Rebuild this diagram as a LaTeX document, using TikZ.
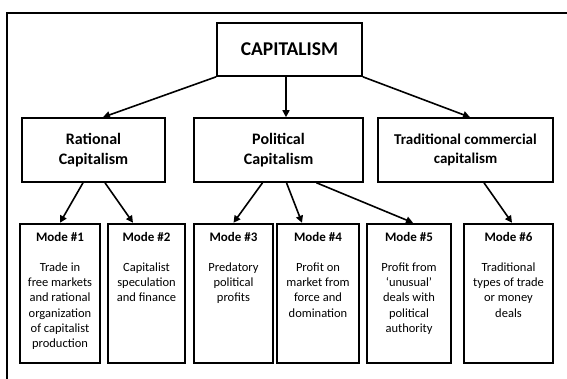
\documentclass[tikz,border=0pt]{standalone}
\usepackage{fontspec}
\setmainfont{Carlito}
\usetikzlibrary{arrows.meta}
\tikzset{
  topbox/.style={draw=black, line width=1.6pt, minimum width=145pt, minimum height=53pt, inner sep=0pt, font=\fontsize{19.5}{23}\selectfont\bfseries},
  midbox/.style={draw=black, line width=1.6pt, minimum height=64pt, inner sep=0pt, align=center, font=\fontsize{16}{20.5}\selectfont\bfseries},
  modebox/.style={draw=black, line width=2.5pt, minimum height=139pt, inner sep=0pt},
  modetext/.style={anchor=north, inner sep=0pt, align=center, font=\fontsize{12.5}{15.3}\selectfont},
  conn/.style={line width=1.6pt, -{Triangle[length=7pt,width=7pt]}},
  frame/.style={line width=1.8pt}
}
\begin{document}
\begin{tikzpicture}[x=1pt,y=-1pt]
\clip (0,0) rectangle (567,378);
\fill[white] (0,0) rectangle (567,378);
\coordinate (fbl) at (7,390);
\coordinate (ftl) at (7,13);
\coordinate (ftr) at (590,13);
\draw[frame] (fbl) -- (ftl) -- (ftr);

\node[topbox] (cap) at (289.5,49.5) {CAPITALISM};

\node[midbox, minimum width=143pt] (rat) at (93.5,150) {Rational\\Capitalism};
\node[midbox, minimum width=169pt] (pol) at (278.5,150) {Political\\Capitalism};
\node[midbox, minimum width=175pt, font=\fontsize{15}{18.3}\selectfont\bfseries] (tra) at (465.5,150) {Traditional commercial\\capitalism};

\node[modebox, minimum width=80pt] (m1) at (60,293.5) {};
\node[modebox, minimum width=77pt] (m2) at (146.5,293.5) {};
\node[modebox, minimum width=79pt] (m3) at (233.5,293.5) {};
\node[modebox, minimum width=82pt] (m4) at (318,293.5) {};
\node[modebox, minimum width=84pt] (m5) at (409,293.5) {};
\node[modebox, minimum width=89pt] (m6) at (508.5,293.5) {};

\node[modetext] (t1) at ([yshift=-9pt]m1.north) {{\fontsize{13}{15}\selectfont\bfseries Mode \#1}\\[15pt]Trade in\\free markets\\and rational\\organization\\of capitalist\\production};
\node[modetext] (t2) at ([yshift=-9pt]m2.north) {{\fontsize{13}{15}\selectfont\bfseries Mode \#2}\\[15pt]Capitalist\\speculation\\and finance};
\node[modetext] (t3) at ([yshift=-9pt]m3.north) {{\fontsize{13}{15}\selectfont\bfseries Mode \#3}\\[15pt]Predatory\\political\\profits};
\node[modetext] (t4) at ([yshift=-9pt]m4.north) {{\fontsize{13}{15}\selectfont\bfseries Mode \#4}\\[15pt]Profit on\\market from\\force and\\domination};
\node[modetext] (t5) at ([yshift=-9pt]m5.north) {{\fontsize{13}{15}\selectfont\bfseries Mode \#5}\\[15pt]Profit from\\‘unusual’\\deals with\\political\\authority};
\node[modetext] (t6) at ([yshift=-9pt]m6.north) {{\fontsize{13}{15}\selectfont\bfseries Mode \#6}\\[15pt]Traditional\\types of trade\\or money\\deals};

\draw[conn] (cap.south west) -- ([xshift=9.5pt]rat.north);
\draw[conn] ([xshift=-3.5pt]cap.south) -- ([xshift=7.5pt]pol.north);
\draw[conn] (cap.south east) -- ([xshift=4.5pt]tra.north);

\draw[conn] ([xshift=-10.5pt]rat.south) -- (m1.north);
\draw[conn] ([xshift=11.5pt]rat.south) -- ([xshift=-13.5pt]m2.north);
\draw[conn] ([xshift=-16pt]pol.south) -- (m3.north);
\draw[conn] ([xshift=8pt]pol.south) -- ([xshift=-16pt]m4.north);
\draw[conn] ([xshift=38pt]pol.south) -- ([xshift=4pt]m5.north);
\draw[conn] ([xshift=18.5pt]tra.south) -- ([xshift=3.5pt]m6.north);
\end{tikzpicture}
\end{document}
